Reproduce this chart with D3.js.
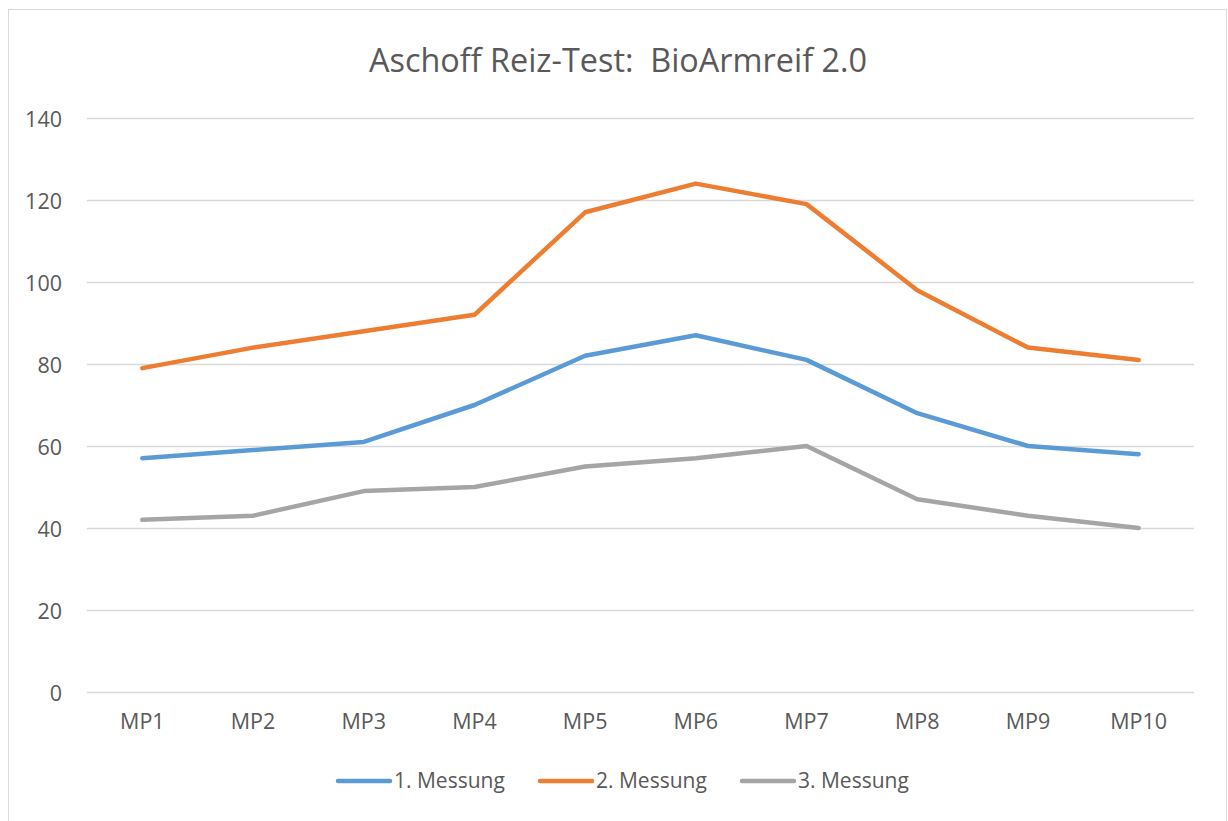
<!DOCTYPE html>
<html>
<head>
<meta charset="utf-8">
<script src="https://cdn.jsdelivr.net/npm/d3@7"></script>
<style>
  body { margin: 0; background: #fff; }
  text { font-family: "Open Sans", "Noto Sans", sans-serif; fill: #595959; }
</style>
</head>
<body>
<div id="chart"></div>
<script>
// data
const categories = ["MP1", "MP2", "MP3", "MP4", "MP5", "MP6", "MP7", "MP8", "MP9", "MP10"];
const messung1 = [57, 59, 61, 70, 82, 87, 81, 68, 60, 58];
const messung2 = [79, 84, 88, 92, 117, 124, 119, 98, 84, 81];
const messung3 = [42, 43, 49, 50, 55, 57, 60, 47, 43, 40];
const seriesNames = ["1. Messung", "2. Messung", "3. Messung"];
const yTicks = [0, 20, 40, 60, 80, 100, 120, 140];

const colors = ["#5b9bd5", "#ed7d31", "#a5a5a5"];
const series = [messung1, messung2, messung3];

const width = 1228, height = 821;
const margin = { top: 118, right: 34, bottom: 129, left: 87 };

const svg = d3.select("#chart").append("svg")
    .attr("width", width)
    .attr("height", height);

// chart frame
svg.append("rect")
    .attr("x", 8.5).attr("y", 9.5)
    .attr("width", 1218).attr("height", 830)
    .attr("fill", "none")
    .attr("stroke", "#d9d9d9");

const x = d3.scaleBand()
    .domain(categories)
    .range([margin.left, width - margin.right]);

const y = d3.scaleLinear()
    .domain([0, 140])
    .range([height - margin.bottom, margin.top]);

// title (keeps the double space)
svg.append("text")
    .attr("x", 618).attr("y", 72)
    .attr("text-anchor", "middle")
    .style("font-size", "32.4px")
    .style("white-space", "pre")
    .text("Aschoff Reiz-Test:  BioArmreif 2.0");

// gridlines + y labels
const yAxis = d3.axisLeft(y)
    .tickValues(yTicks)
    .tickSize(-(width - margin.left - margin.right))
    .tickPadding(25);

svg.append("g")
    .attr("transform", "translate(" + margin.left + ",0)")
    .call(yAxis)
    .call(g => g.select(".domain").remove())
    .call(g => g.selectAll("line").attr("stroke", "#d9d9d9").attr("stroke-width", 1.3))
    .call(g => g.selectAll("text").style("font-size", "21.5px").attr("dy", "0.38em").attr("fill", "#595959"));

// x labels
const xAxis = d3.axisBottom(x).tickSize(0).tickPadding(22);
svg.append("g")
    .attr("transform", "translate(0," + (height - margin.bottom) + ")")
    .call(xAxis)
    .call(g => g.select(".domain").remove())
    .call(g => g.selectAll("text").style("font-size", "21.5px").attr("fill", "#595959"));

const line = d3.line()
    .x((d, i) => x(categories[i]) + x.bandwidth() / 2)
    .y(d => y(d));

svg.append("g").selectAll("path")
    .data(series)
    .enter().append("path")
    .attr("d", line)
    .attr("fill", "none")
    .attr("stroke", (d, i) => colors[i])
    .attr("stroke-width", 4.5)
    .attr("stroke-linejoin", "round")
    .attr("stroke-linecap", "round");

// legend
const legendX = [338, 540, 742];
const legend = svg.append("g").selectAll("g")
    .data(seriesNames)
    .enter().append("g")
    .attr("transform", (d, i) => "translate(" + legendX[i] + ",781)");

legend.append("line")
    .attr("x1", 0).attr("x2", 52)
    .attr("stroke", (d, i) => colors[i])
    .attr("stroke-width", 4.5)
    .attr("stroke-linecap", "round");

legend.append("text")
    .attr("x", 56).attr("dy", "0.35em")
    .style("font-size", "21px")
    .text(d => d);
</script>
</body>
</html>
